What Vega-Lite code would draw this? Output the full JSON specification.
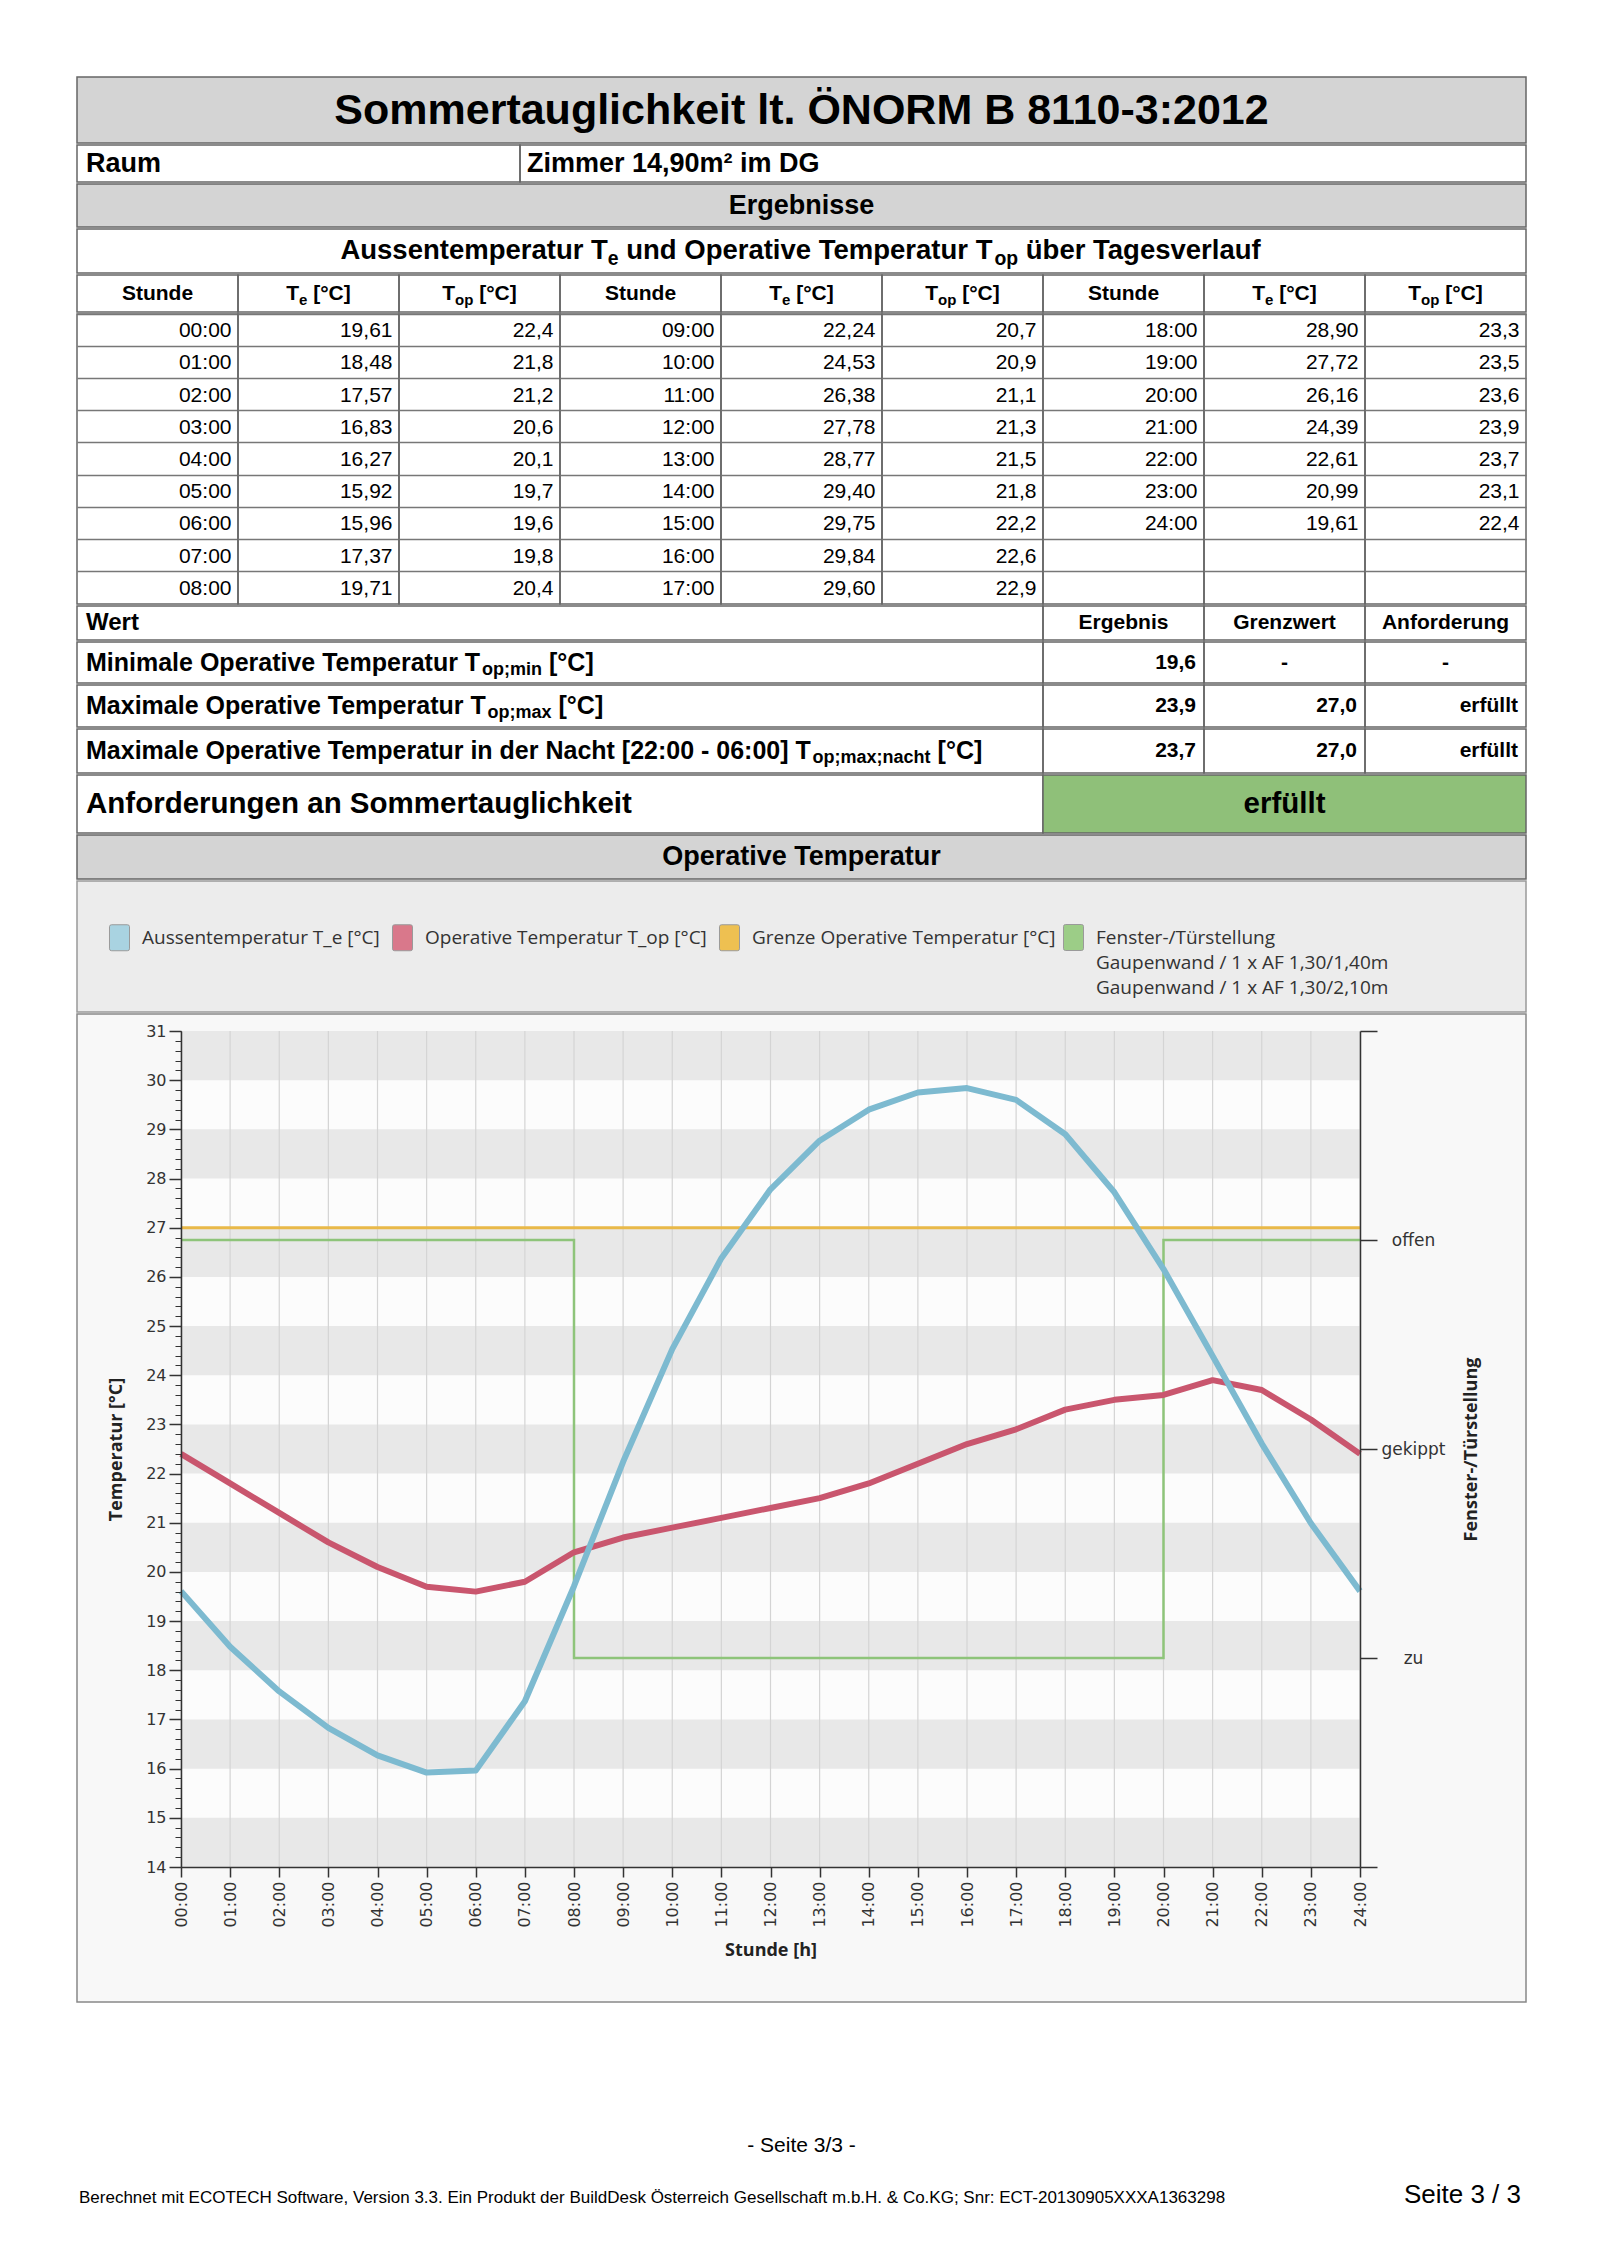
{
"$schema":"https://vega.github.io/schema/vega-lite/v6.json",
"padding":{"left":76,"top":76,"right":0,"bottom":0},
"background":"#ffffff",
"spacing":0,
"resolve":{"scale":{"color":"independent"},"legend":{"color":"independent"}},
"config":{
 "view":{"stroke":"#666666","strokeWidth":1.5},
 "text":{"font":"Liberation Sans","fontSize":21,"color":"#000000","baseline":"middle"},
 "locale":{"number":{"decimal":",","thousands":".","grouping":[3],"currency":[""," €"]}},
 "axis":{"zindex":1}
},
"datasets":{
 "hours":[
  {"h":"00:00","x":0,"te":19.61,"top":22.4},
  {"h":"01:00","x":1,"te":18.48,"top":21.8},
  {"h":"02:00","x":2,"te":17.57,"top":21.2},
  {"h":"03:00","x":3,"te":16.83,"top":20.6},
  {"h":"04:00","x":4,"te":16.27,"top":20.1},
  {"h":"05:00","x":5,"te":15.92,"top":19.7},
  {"h":"06:00","x":6,"te":15.96,"top":19.6},
  {"h":"07:00","x":7,"te":17.37,"top":19.8},
  {"h":"08:00","x":8,"te":19.71,"top":20.4},
  {"h":"09:00","x":9,"te":22.24,"top":20.7},
  {"h":"10:00","x":10,"te":24.53,"top":20.9},
  {"h":"11:00","x":11,"te":26.38,"top":21.1},
  {"h":"12:00","x":12,"te":27.78,"top":21.3},
  {"h":"13:00","x":13,"te":28.77,"top":21.5},
  {"h":"14:00","x":14,"te":29.40,"top":21.8},
  {"h":"15:00","x":15,"te":29.75,"top":22.2},
  {"h":"16:00","x":16,"te":29.84,"top":22.6},
  {"h":"17:00","x":17,"te":29.60,"top":22.9},
  {"h":"18:00","x":18,"te":28.90,"top":23.3},
  {"h":"19:00","x":19,"te":27.72,"top":23.5},
  {"h":"20:00","x":20,"te":26.16,"top":23.6},
  {"h":"21:00","x":21,"te":24.39,"top":23.9},
  {"h":"22:00","x":22,"te":22.61,"top":23.7},
  {"h":"23:00","x":23,"te":20.99,"top":23.1},
  {"h":"24:00","x":24,"te":19.61,"top":22.4}
 ],
 "bands":[{"lo":14,"hi":15},{"lo":16,"hi":17},{"lo":18,"hi":19},{"lo":20,"hi":21},{"lo":22,"hi":23},{"lo":24,"hi":25},{"lo":26,"hi":27},{"lo":28,"hi":29},{"lo":30,"hi":31}],
 "window":[{"x":0,"s":2},{"x":8,"s":0},{"x":20,"s":2},{"x":24,"s":2}],
 "series":[{"s":"Aussentemperatur T_e [°C]"},{"s":"Operative Temperatur T_op [°C]"},{"s":"Grenze Operative Temperatur [°C]"},{"s":"Fenster-/Türstellung"}],
 "results":[
  {"k":"min","main":"Minimale Operative Temperatur T","sub":"op;min","unit":"[°C]","erg":19.6,"grenz":"-","anf":"-"},
  {"k":"max","main":"Maximale Operative Temperatur T","sub":"op;max","unit":"[°C]","erg":23.9,"grenz":27.0,"anf":"erfüllt"},
  {"k":"nacht","main":"Maximale Operative Temperatur in der Nacht [22:00 - 06:00] T","sub":"op;max;nacht","unit":"[°C]","erg":23.7,"grenz":27.0,"anf":"erfüllt"}
 ]
},
"vconcat":[
 {"width":1449,"height":66,"view":{"fill":"#d4d4d4","stroke":"#666666","strokeWidth":1.5},"data":{"values":[{"t":"Sommertauglichkeit lt. ÖNORM B 8110-3:2012"}]},"mark":{"type":"text","fontSize":43,"fontWeight":"bold","dy":1},"encoding":{"text":{"field":"t","type":"nominal"}}},
 {"hconcat":[
  {"width":443,"height":37,"view":{"stroke":"#666666","strokeWidth":1.5},"data":{"values":[{"t":"Raum"}]},"mark":{"type":"text","fontSize":27,"fontWeight":"bold","align":"left","dx":-212.5},"encoding":{"text":{"field":"t","type":"nominal"}}},
  {"width":1006,"height":37,"view":{"stroke":"#666666","strokeWidth":1.5},"data":{"values":[{"t":"Zimmer 14,90m² im DG"}]},"mark":{"type":"text","fontSize":27,"fontWeight":"bold","align":"left","dx":-496},"encoding":{"text":{"field":"t","type":"nominal"}}}
 ],"spacing":0,"bounds":"flush"},
 {"width":1449,"height":43,"view":{"fill":"#d4d4d4","stroke":"#666666","strokeWidth":1.5},"data":{"values":[{"t":"Ergebnisse"}]},"mark":{"type":"text","fontSize":27,"fontWeight":"bold"},"encoding":{"text":{"field":"t","type":"nominal"}}},
 {"width":1449,"height":44,"view":{"stroke":"#666666","strokeWidth":1.5},"data":{"values":[{"a":"Aussentemperatur T","b":"e","c":"und Operative Temperatur T","d":"op","e":"über Tagesverlauf"}]},
  "layer":[
   {"mark":{"type":"text","fontSize":27.5,"fontWeight":"bold","align":"left","dx":-461.1},"encoding":{"text":{"field":"a","type":"nominal"}}},
   {"mark":{"type":"text","fontSize":19.4,"fontWeight":"bold","align":"left","dx":-193.7,"dy":8},"encoding":{"text":{"field":"b","type":"nominal"}}},
   {"mark":{"type":"text","fontSize":27.5,"fontWeight":"bold","align":"left","dx":-175.3},"encoding":{"text":{"field":"c","type":"nominal"}}},
   {"mark":{"type":"text","fontSize":19.4,"fontWeight":"bold","align":"left","dx":193,"dy":8},"encoding":{"text":{"field":"d","type":"nominal"}}},
   {"mark":{"type":"text","fontSize":27.5,"fontWeight":"bold","align":"left","dx":224.3},"encoding":{"text":{"field":"e","type":"nominal"}}}
  ]},
 {"hconcat":[
  {"width":161,"height":37,"view":{"stroke":"#666666","strokeWidth":1.5},"data":{"values":[{"t":"Stunde"}]},"mark":{"type":"text","fontWeight":"bold"},"encoding":{"text":{"field":"t","type":"nominal"}}},
  {"width":161,"height":37,"view":{"stroke":"#666666","strokeWidth":1.5},"data":{"values":[{"m":"T","s":"e","u":"[°C]"}]},"layer":[
   {"mark":{"type":"text","fontWeight":"bold","align":"left","dx":-32.3},"encoding":{"text":{"field":"m","type":"nominal"}}},
   {"mark":{"type":"text","fontWeight":"bold","fontSize":15,"align":"left","dx":-19.5,"dy":6},"encoding":{"text":{"field":"s","type":"nominal"}}},
   {"mark":{"type":"text","fontWeight":"bold","align":"left","dx":-5.3},"encoding":{"text":{"field":"u","type":"nominal"}}}]},
  {"width":161,"height":37,"view":{"stroke":"#666666","strokeWidth":1.5},"data":{"values":[{"m":"T","s":"op","u":"[°C]"}]},"layer":[
   {"mark":{"type":"text","fontWeight":"bold","align":"left","dx":-37.3},"encoding":{"text":{"field":"m","type":"nominal"}}},
   {"mark":{"type":"text","fontWeight":"bold","fontSize":15,"align":"left","dx":-24.5,"dy":6},"encoding":{"text":{"field":"s","type":"nominal"}}},
   {"mark":{"type":"text","fontWeight":"bold","align":"left","dx":-0.3},"encoding":{"text":{"field":"u","type":"nominal"}}}]},
  {"width":161,"height":37,"view":{"stroke":"#666666","strokeWidth":1.5},"data":{"values":[{"t":"Stunde"}]},"mark":{"type":"text","fontWeight":"bold"},"encoding":{"text":{"field":"t","type":"nominal"}}},
  {"width":161,"height":37,"view":{"stroke":"#666666","strokeWidth":1.5},"data":{"values":[{"m":"T","s":"e","u":"[°C]"}]},"layer":[
   {"mark":{"type":"text","fontWeight":"bold","align":"left","dx":-32.3},"encoding":{"text":{"field":"m","type":"nominal"}}},
   {"mark":{"type":"text","fontWeight":"bold","fontSize":15,"align":"left","dx":-19.5,"dy":6},"encoding":{"text":{"field":"s","type":"nominal"}}},
   {"mark":{"type":"text","fontWeight":"bold","align":"left","dx":-5.3},"encoding":{"text":{"field":"u","type":"nominal"}}}]},
  {"width":161,"height":37,"view":{"stroke":"#666666","strokeWidth":1.5},"data":{"values":[{"m":"T","s":"op","u":"[°C]"}]},"layer":[
   {"mark":{"type":"text","fontWeight":"bold","align":"left","dx":-37.3},"encoding":{"text":{"field":"m","type":"nominal"}}},
   {"mark":{"type":"text","fontWeight":"bold","fontSize":15,"align":"left","dx":-24.5,"dy":6},"encoding":{"text":{"field":"s","type":"nominal"}}},
   {"mark":{"type":"text","fontWeight":"bold","align":"left","dx":-0.3},"encoding":{"text":{"field":"u","type":"nominal"}}}]},
  {"width":161,"height":37,"view":{"stroke":"#666666","strokeWidth":1.5},"data":{"values":[{"t":"Stunde"}]},"mark":{"type":"text","fontWeight":"bold"},"encoding":{"text":{"field":"t","type":"nominal"}}},
  {"width":161,"height":37,"view":{"stroke":"#666666","strokeWidth":1.5},"data":{"values":[{"m":"T","s":"e","u":"[°C]"}]},"layer":[
   {"mark":{"type":"text","fontWeight":"bold","align":"left","dx":-32.3},"encoding":{"text":{"field":"m","type":"nominal"}}},
   {"mark":{"type":"text","fontWeight":"bold","fontSize":15,"align":"left","dx":-19.5,"dy":6},"encoding":{"text":{"field":"s","type":"nominal"}}},
   {"mark":{"type":"text","fontWeight":"bold","align":"left","dx":-5.3},"encoding":{"text":{"field":"u","type":"nominal"}}}]},
  {"width":161,"height":37,"view":{"stroke":"#666666","strokeWidth":1.5},"data":{"values":[{"m":"T","s":"op","u":"[°C]"}]},"layer":[
   {"mark":{"type":"text","fontWeight":"bold","align":"left","dx":-37.3},"encoding":{"text":{"field":"m","type":"nominal"}}},
   {"mark":{"type":"text","fontWeight":"bold","fontSize":15,"align":"left","dx":-24.5,"dy":6},"encoding":{"text":{"field":"s","type":"nominal"}}},
   {"mark":{"type":"text","fontWeight":"bold","align":"left","dx":-0.3},"encoding":{"text":{"field":"u","type":"nominal"}}}]}
 ],"spacing":0,"bounds":"flush"},
 {"hconcat":[
  {"width":161,"height":290,"view":{"stroke":"#666666","strokeWidth":1.5},"data":{"name":"hours"},"transform":[{"filter":"datum.x <= 8"}],"mark":{"type":"text","align":"right","dx":74,"dy":1},"encoding":{"y":{"field":"x","type":"ordinal","scale":{"type":"band","domain":[0,1,2,3,4,5,6,7,8],"paddingInner":0,"paddingOuter":0},"axis":{"grid":true,"gridColor":"#777777","gridWidth":1.5,"labels":false,"ticks":false,"domain":false,"title":null,"bandPosition":0}},"text":{"field":"h","type":"nominal"}}},
  {"width":161,"height":290,"view":{"stroke":"#666666","strokeWidth":1.5},"data":{"name":"hours"},"transform":[{"filter":"datum.x <= 8"}],"mark":{"type":"text","align":"right","dx":74,"dy":1},"encoding":{"y":{"field":"x","type":"ordinal","scale":{"type":"band","domain":[0,1,2,3,4,5,6,7,8],"paddingInner":0,"paddingOuter":0},"axis":{"grid":true,"gridColor":"#777777","gridWidth":1.5,"labels":false,"ticks":false,"domain":false,"title":null,"bandPosition":0}},"text":{"field":"te","type":"quantitative","format":".2f"}}},
  {"width":161,"height":290,"view":{"stroke":"#666666","strokeWidth":1.5},"data":{"name":"hours"},"transform":[{"filter":"datum.x <= 8"}],"mark":{"type":"text","align":"right","dx":74,"dy":1},"encoding":{"y":{"field":"x","type":"ordinal","scale":{"type":"band","domain":[0,1,2,3,4,5,6,7,8],"paddingInner":0,"paddingOuter":0},"axis":{"grid":true,"gridColor":"#777777","gridWidth":1.5,"labels":false,"ticks":false,"domain":false,"title":null,"bandPosition":0}},"text":{"field":"top","type":"quantitative","format":".1f"}}},
  {"width":161,"height":290,"view":{"stroke":"#666666","strokeWidth":1.5},"data":{"name":"hours"},"transform":[{"filter":"datum.x >= 9 && datum.x <= 17"}],"mark":{"type":"text","align":"right","dx":74,"dy":1},"encoding":{"y":{"field":"x","type":"ordinal","scale":{"type":"band","domain":[9,10,11,12,13,14,15,16,17],"paddingInner":0,"paddingOuter":0},"axis":{"grid":true,"gridColor":"#777777","gridWidth":1.5,"labels":false,"ticks":false,"domain":false,"title":null,"bandPosition":0}},"text":{"field":"h","type":"nominal"}}},
  {"width":161,"height":290,"view":{"stroke":"#666666","strokeWidth":1.5},"data":{"name":"hours"},"transform":[{"filter":"datum.x >= 9 && datum.x <= 17"}],"mark":{"type":"text","align":"right","dx":74,"dy":1},"encoding":{"y":{"field":"x","type":"ordinal","scale":{"type":"band","domain":[9,10,11,12,13,14,15,16,17],"paddingInner":0,"paddingOuter":0},"axis":{"grid":true,"gridColor":"#777777","gridWidth":1.5,"labels":false,"ticks":false,"domain":false,"title":null,"bandPosition":0}},"text":{"field":"te","type":"quantitative","format":".2f"}}},
  {"width":161,"height":290,"view":{"stroke":"#666666","strokeWidth":1.5},"data":{"name":"hours"},"transform":[{"filter":"datum.x >= 9 && datum.x <= 17"}],"mark":{"type":"text","align":"right","dx":74,"dy":1},"encoding":{"y":{"field":"x","type":"ordinal","scale":{"type":"band","domain":[9,10,11,12,13,14,15,16,17],"paddingInner":0,"paddingOuter":0},"axis":{"grid":true,"gridColor":"#777777","gridWidth":1.5,"labels":false,"ticks":false,"domain":false,"title":null,"bandPosition":0}},"text":{"field":"top","type":"quantitative","format":".1f"}}},
  {"width":161,"height":290,"view":{"stroke":"#666666","strokeWidth":1.5},"data":{"name":"hours"},"transform":[{"filter":"datum.x >= 18"}],"mark":{"type":"text","align":"right","dx":74,"dy":1},"encoding":{"y":{"field":"x","type":"ordinal","scale":{"type":"band","domain":[18,19,20,21,22,23,24,25,26],"paddingInner":0,"paddingOuter":0},"axis":{"grid":true,"gridColor":"#777777","gridWidth":1.5,"labels":false,"ticks":false,"domain":false,"title":null,"bandPosition":0}},"text":{"field":"h","type":"nominal"}}},
  {"width":161,"height":290,"view":{"stroke":"#666666","strokeWidth":1.5},"data":{"name":"hours"},"transform":[{"filter":"datum.x >= 18"}],"mark":{"type":"text","align":"right","dx":74,"dy":1},"encoding":{"y":{"field":"x","type":"ordinal","scale":{"type":"band","domain":[18,19,20,21,22,23,24,25,26],"paddingInner":0,"paddingOuter":0},"axis":{"grid":true,"gridColor":"#777777","gridWidth":1.5,"labels":false,"ticks":false,"domain":false,"title":null,"bandPosition":0}},"text":{"field":"te","type":"quantitative","format":".2f"}}},
  {"width":161,"height":290,"view":{"stroke":"#666666","strokeWidth":1.5},"data":{"name":"hours"},"transform":[{"filter":"datum.x >= 18"}],"mark":{"type":"text","align":"right","dx":74,"dy":1},"encoding":{"y":{"field":"x","type":"ordinal","scale":{"type":"band","domain":[18,19,20,21,22,23,24,25,26],"paddingInner":0,"paddingOuter":0},"axis":{"grid":true,"gridColor":"#777777","gridWidth":1.5,"labels":false,"ticks":false,"domain":false,"title":null,"bandPosition":0}},"text":{"field":"top","type":"quantitative","format":".1f"}}}
 ],"spacing":0,"bounds":"flush"},
 {"hconcat":[
  {"width":966,"height":34,"view":{"stroke":"#666666","strokeWidth":1.5},"data":{"values":[{"t":"Wert"}]},"mark":{"type":"text","fontSize":24,"fontWeight":"bold","align":"left","dx":-474},"encoding":{"text":{"field":"t","type":"nominal"}}},
  {"width":161,"height":34,"view":{"stroke":"#666666","strokeWidth":1.5},"data":{"values":[{"t":"Ergebnis"}]},"mark":{"type":"text","fontWeight":"bold"},"encoding":{"text":{"field":"t","type":"nominal"}}},
  {"width":161,"height":34,"view":{"stroke":"#666666","strokeWidth":1.5},"data":{"values":[{"t":"Grenzwert"}]},"mark":{"type":"text","fontWeight":"bold"},"encoding":{"text":{"field":"t","type":"nominal"}}},
  {"width":161,"height":34,"view":{"stroke":"#666666","strokeWidth":1.5},"data":{"values":[{"t":"Anforderung"}]},"mark":{"type":"text","fontWeight":"bold"},"encoding":{"text":{"field":"t","type":"nominal"}}}
 ],"spacing":0,"bounds":"flush"},
 {"hconcat":[
  {"width":966,"height":41,"view":{"stroke":"#666666","strokeWidth":1.5},"data":{"name":"results"},"transform":[{"filter":"datum.k == 'min'"}],"layer":[
   {"mark":{"type":"text","fontSize":25,"fontWeight":"bold","align":"left","dx":-474},"encoding":{"text":{"field":"main","type":"nominal"}}},
   {"mark":{"type":"text","fontSize":18,"fontWeight":"bold","align":"left","dx":-78,"dy":7},"encoding":{"text":{"field":"sub","type":"nominal"}}},
   {"mark":{"type":"text","fontSize":25,"fontWeight":"bold","align":"left","dx":-11},"encoding":{"text":{"field":"unit","type":"nominal"}}}]},
  {"width":161,"height":41,"view":{"stroke":"#666666","strokeWidth":1.5},"data":{"name":"results"},"transform":[{"filter":"datum.k == 'min'"}],"mark":{"type":"text","fontWeight":"bold","align":"right","dx":72.5},"encoding":{"text":{"field":"erg","type":"quantitative","format":".1f"}}},
  {"width":161,"height":41,"view":{"stroke":"#666666","strokeWidth":1.5},"data":{"name":"results"},"transform":[{"filter":"datum.k == 'min'"}],"mark":{"type":"text","fontWeight":"bold"},"encoding":{"text":{"field":"grenz","type":"nominal"}}},
  {"width":161,"height":41,"view":{"stroke":"#666666","strokeWidth":1.5},"data":{"name":"results"},"transform":[{"filter":"datum.k == 'min'"}],"mark":{"type":"text","fontWeight":"bold"},"encoding":{"text":{"field":"anf","type":"nominal"}}}
 ],"spacing":0,"bounds":"flush"},
 {"hconcat":[
  {"width":966,"height":42,"view":{"stroke":"#666666","strokeWidth":1.5},"data":{"name":"results"},"transform":[{"filter":"datum.k == 'max'"}],"layer":[
   {"mark":{"type":"text","fontSize":25,"fontWeight":"bold","align":"left","dx":-474},"encoding":{"text":{"field":"main","type":"nominal"}}},
   {"mark":{"type":"text","fontSize":18,"fontWeight":"bold","align":"left","dx":-72.5,"dy":7},"encoding":{"text":{"field":"sub","type":"nominal"}}},
   {"mark":{"type":"text","fontSize":25,"fontWeight":"bold","align":"left","dx":-1.5},"encoding":{"text":{"field":"unit","type":"nominal"}}}]},
  {"width":161,"height":42,"view":{"stroke":"#666666","strokeWidth":1.5},"data":{"name":"results"},"transform":[{"filter":"datum.k == 'max'"}],"mark":{"type":"text","fontWeight":"bold","align":"right","dx":72.5},"encoding":{"text":{"field":"erg","type":"quantitative","format":".1f"}}},
  {"width":161,"height":42,"view":{"stroke":"#666666","strokeWidth":1.5},"data":{"name":"results"},"transform":[{"filter":"datum.k == 'max'"}],"mark":{"type":"text","fontWeight":"bold","align":"right","dx":72.5},"encoding":{"text":{"field":"grenz","type":"quantitative","format":".1f"}}},
  {"width":161,"height":42,"view":{"stroke":"#666666","strokeWidth":1.5},"data":{"name":"results"},"transform":[{"filter":"datum.k == 'max'"}],"mark":{"type":"text","fontWeight":"bold","align":"right","dx":72.5},"encoding":{"text":{"field":"anf","type":"nominal"}}}
 ],"spacing":0,"bounds":"flush"},
 {"hconcat":[
  {"width":966,"height":44,"view":{"stroke":"#666666","strokeWidth":1.5},"data":{"name":"results"},"transform":[{"filter":"datum.k == 'nacht'"}],"layer":[
   {"mark":{"type":"text","fontSize":25,"fontWeight":"bold","align":"left","dx":-474},"encoding":{"text":{"field":"main","type":"nominal"}}},
   {"mark":{"type":"text","fontSize":18,"fontWeight":"bold","align":"left","dx":252.6,"dy":7},"encoding":{"text":{"field":"sub","type":"nominal"}}},
   {"mark":{"type":"text","fontSize":25,"fontWeight":"bold","align":"left","dx":377.6},"encoding":{"text":{"field":"unit","type":"nominal"}}}]},
  {"width":161,"height":44,"view":{"stroke":"#666666","strokeWidth":1.5},"data":{"name":"results"},"transform":[{"filter":"datum.k == 'nacht'"}],"mark":{"type":"text","fontWeight":"bold","align":"right","dx":72.5},"encoding":{"text":{"field":"erg","type":"quantitative","format":".1f"}}},
  {"width":161,"height":44,"view":{"stroke":"#666666","strokeWidth":1.5},"data":{"name":"results"},"transform":[{"filter":"datum.k == 'nacht'"}],"mark":{"type":"text","fontWeight":"bold","align":"right","dx":72.5},"encoding":{"text":{"field":"grenz","type":"quantitative","format":".1f"}}},
  {"width":161,"height":44,"view":{"stroke":"#666666","strokeWidth":1.5},"data":{"name":"results"},"transform":[{"filter":"datum.k == 'nacht'"}],"mark":{"type":"text","fontWeight":"bold","align":"right","dx":72.5},"encoding":{"text":{"field":"anf","type":"nominal"}}}
 ],"spacing":0,"bounds":"flush"},
 {"hconcat":[
  {"width":966,"height":58,"view":{"stroke":"#666666","strokeWidth":1.5},"data":{"values":[{"t":"Anforderungen an Sommertauglichkeit"}]},"mark":{"type":"text","fontSize":29.5,"fontWeight":"bold","align":"left","dx":-474},"encoding":{"text":{"field":"t","type":"nominal"}}},
  {"width":483,"height":58,"view":{"fill":"#8fc079","stroke":"#666666","strokeWidth":1.5},"data":{"values":[{"t":"erfüllt"}]},"mark":{"type":"text","fontSize":29.5,"fontWeight":"bold"},"encoding":{"text":{"field":"t","type":"nominal"}}}
 ],"spacing":0,"bounds":"flush"},
 {"width":1449,"height":44,"view":{"fill":"#d4d4d4","stroke":"#666666","strokeWidth":1.5},"data":{"values":[{"t":"Operative Temperatur"}]},"mark":{"type":"text","fontSize":27,"fontWeight":"bold"},"encoding":{"text":{"field":"t","type":"nominal"}}},
 {"width":1449,"height":131,"view":{"fill":"#ececec","stroke":"#999999","strokeWidth":1.5},
  "resolve":{"scale":{"color":"independent"},"legend":{"color":"independent"}},
  "layer":[
   {"data":{"name":"series"},"transform":[{"filter":"datum.s != 'Fenster-/Türstellung'"}],
    "mark":{"type":"point","filled":true,"opacity":0},
    "encoding":{"color":{"field":"s","type":"nominal",
     "scale":{"domain":["Aussentemperatur T_e [°C]","Operative Temperatur T_op [°C]","Grenze Operative Temperatur [°C]"],"range":["#a9d3e1","#d9788b","#eec051"]},
     "legend":{"orient":"none","legendX":29,"legendY":43,"direction":"horizontal","title":null,"padding":0,
      "symbolType":"M-0.6,-1L0.6,-1Q0.77,-1 0.77,-0.85L0.77,0.85Q0.77,1 0.6,1L-0.6,1Q-0.77,1 -0.77,0.85L-0.77,-0.85Q-0.77,-1 -0.6,-1Z",
      "symbolSize":676,"symbolOpacity":1,"symbolStrokeColor":"#9a9a9a","symbolStrokeWidth":1,
      "labelFont":"Open Sans","labelFontSize":19,"labelColor":"#333333","labelOffset":9,"columnPadding":9,"labelLimit":800}}}},
   {"data":{"name":"series"},"transform":[{"filter":"datum.s == 'Fenster-/Türstellung'"}],
    "mark":{"type":"point","filled":true,"opacity":0},
    "encoding":{"color":{"field":"s","type":"nominal",
     "scale":{"domain":["Fenster-/Türstellung"],"range":["#9ccd87"]},
     "legend":{"orient":"none","legendX":983,"legendY":43,"direction":"horizontal","title":null,"padding":0,
      "symbolType":"M-0.6,-1L0.6,-1Q0.77,-1 0.77,-0.85L0.77,0.85Q0.77,1 0.6,1L-0.6,1Q-0.77,1 -0.77,0.85L-0.77,-0.85Q-0.77,-1 -0.6,-1Z",
      "symbolSize":676,"symbolOpacity":1,"symbolStrokeColor":"#9a9a9a","symbolStrokeWidth":1,
      "labelFont":"Open Sans","labelFontSize":19,"labelColor":"#333333","labelOffset":9,"labelLimit":800,
      "labelExpr":"['Fenster-/Türstellung', 'Gaupenwand / 1 x AF 1,30/1,40m', 'Gaupenwand / 1 x AF 1,30/2,10m']",
      "encode":{"labels":{"update":{"lineHeight":{"value":25}}}}}}}}
  ]},
 {"width":1449,"height":988,"view":{"fill":"#f8f8f8","stroke":"#888888","strokeWidth":1.5},
  "resolve":{"scale":{"y":"independent"}},
  "layer":[
   {"layer":[
     {"data":{"values":[{"lo":14,"hi":31}]},"mark":{"type":"rect","color":"#fcfcfc"},
      "encoding":{
       "x":{"datum":0,"type":"quantitative","scale":{"domain":[0,24],"range":[104,1283],"nice":false,"zero":false},
        "axis":{"orient":"bottom","offset":-135,"values":[0,1,2,3,4,5,6,7,8,9,10,11,12,13,14,15,16,17,18,19,20,21,22,23,24],"labelExpr":"(datum.value < 10 ? '0' : '') + datum.value + ':00'","labelAngle":-90,"labelFont":"DejaVu Sans","labelFontSize":16,"labelColor":"#333333","labelPadding":4,"labelFlush":false,"labelOverlap":false,"tickSize":10,"tickColor":"#333333","tickWidth":1.5,"domainColor":"#333333","domainWidth":1.5,"grid":false,"title":"Stunde [h]","titleFont":"Open Sans","titleFontSize":18,"titleFontWeight":"bold","titleColor":"#222222","titlePadding":14,"zindex":1}},
       "x2":{"datum":24},
       "y":{"field":"lo","type":"quantitative","scale":{"domain":[14,31],"range":[853,17],"nice":false,"zero":false},
        "axis":{"orient":"left","offset":-104,"values":[14,15,16,17,18,19,20,21,22,23,24,25,26,27,28,29,30,31],"format":".0f","labelFont":"DejaVu Sans","labelFontSize":16,"labelColor":"#333333","labelPadding":3,"labelFlush":false,"labelOverlap":false,"tickSize":12,"tickColor":"#333333","tickWidth":1.5,"domainColor":"#333333","domainWidth":1.5,"grid":false,"title":"Temperatur [°C]","titleFont":"Open Sans","titleFontSize":18,"titleFontWeight":"bold","titleColor":"#222222","titleAngle":270,"titleX":-65,"titleBaseline":"middle","titleAlign":"center","zindex":1}},
       "y2":{"field":"hi"}}},
     {"data":{"name":"bands"},"mark":{"type":"rect","color":"#e8e8e8"},
      "encoding":{"x":{"datum":0,"type":"quantitative"},"x2":{"datum":24},"y":{"field":"lo","type":"quantitative"},"y2":{"field":"hi"}}},
     {"data":{"name":"hours"},"mark":{"type":"rule","color":"#d4d4d4","strokeWidth":1.2},
      "encoding":{"x":{"field":"x","type":"quantitative"},"y":{"datum":14,"type":"quantitative"},"y2":{"datum":31}}},
     {"data":{"values":[{"limit":27}]},"mark":{"type":"rule","color":"#e9b949","strokeWidth":3},
      "encoding":{"x":{"datum":0,"type":"quantitative"},"x2":{"datum":24},"y":{"field":"limit","type":"quantitative"}}}
   ]},
   {"data":{"name":"window"},"mark":{"type":"line","interpolate":"step-after","color":"#8ec47a","strokeWidth":2.5},
    "encoding":{"x":{"field":"x","type":"quantitative"},
     "y":{"field":"s","type":"quantitative","scale":{"domain":[-1,3],"range":[853,17],"nice":false,"zero":false},
      "axis":{"orient":"right","offset":-166,"values":[-1,0,1,2,3],"labelExpr":"datum.value == 0 ? 'zu' : datum.value == 1 ? 'gekippt' : datum.value == 2 ? 'offen' : ''","labelFont":"DejaVu Sans","labelFontSize":17,"labelColor":"#333333","labelAlign":"center","labelPadding":36,"labelFlush":false,"labelOverlap":false,"tickSize":17,"tickColor":"#333333","tickWidth":1.5,"domainColor":"#333333","domainWidth":1.5,"grid":false,"title":"Fenster-/Türstellung","titleFont":"Open Sans","titleFontSize":18,"titleFontWeight":"bold","titleColor":"#222222","titleAngle":270,"titleX":111,"titleBaseline":"middle","titleAlign":"center","zindex":1}}}},
   {"layer":[
     {"data":{"name":"hours"},"mark":{"type":"line","color":"#c9566e","strokeWidth":6,"strokeJoin":"round"},
      "encoding":{"x":{"field":"x","type":"quantitative"},
       "y":{"field":"top","type":"quantitative","scale":{"domain":[14,31],"range":[853,17],"nice":false,"zero":false},
        "axis":{"orient":"left","offset":-104,"tickCount":85,"labels":false,"domain":false,"ticks":true,"tickSize":6,"tickColor":"#333333","tickWidth":1,"grid":false,"title":null,"zindex":1}}}},
     {"data":{"name":"hours"},"mark":{"type":"line","color":"#7dbad0","strokeWidth":6,"strokeJoin":"round"},
      "encoding":{"x":{"field":"x","type":"quantitative"},"y":{"field":"te","type":"quantitative"}}}
   ]}
  ]},
 {"width":1449,"height":261,"view":{"stroke":null},
  "data":{"values":[{"a":"- Seite 3/3 -","b":"Berechnet mit ECOTECH Software, Version 3.3. Ein Produkt der BuildDesk Österreich Gesellschaft m.b.H. & Co.KG; Snr: ECT-20130905XXXA1363298","c":"Seite 3 / 3"}]},
  "layer":[
   {"mark":{"type":"text","fontSize":21,"dy":12},"encoding":{"text":{"field":"a","type":"nominal"}}},
   {"mark":{"type":"text","fontSize":17,"align":"left","dx":-722.5,"dy":64},"encoding":{"text":{"field":"b","type":"nominal"}}},
   {"mark":{"type":"text","fontSize":26,"align":"right","dx":719.5,"dy":61}, "encoding":{"text":{"field":"c","type":"nominal"}}}
  ]}
]
}
